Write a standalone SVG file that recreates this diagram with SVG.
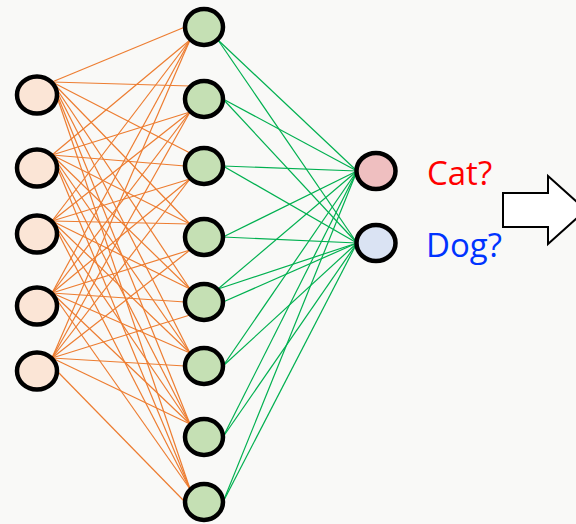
<svg xmlns="http://www.w3.org/2000/svg" width="576" height="524" viewBox="0 0 576 524">
<style>
.node{stroke:#000;stroke-width:4.5}
.in{fill:#FBE5D6}
.hid{fill:#C5E0B4}
.o{stroke:#ED7D31;stroke-width:1.2;fill:none}
.g{stroke:#00B050;stroke-width:1.2;fill:none}
.lbl{font-family:"Open Sans","Liberation Sans",sans-serif;font-size:33px}
</style>
<rect x="0" y="0" width="576" height="524" fill="#F9F9F7"/>
<g id="connectors">
<g id="orange">
<line class="o" x1="52" y1="82" x2="185" y2="27"/>
<line class="o" x1="52" y1="155" x2="190" y2="40"/>
<line class="o" x1="52" y1="221" x2="190" y2="40"/>
<line class="o" x1="52" y1="293" x2="190" y2="40"/>
<line class="o" x1="52" y1="358" x2="190" y2="40"/>
<line class="o" x1="52" y1="82" x2="190" y2="86"/>
<line class="o" x1="52" y1="155" x2="190" y2="112"/>
<line class="o" x1="52" y1="221" x2="190" y2="112"/>
<line class="o" x1="52" y1="293" x2="190" y2="112"/>
<line class="o" x1="52" y1="358" x2="190" y2="112"/>
<line class="o" x1="52" y1="82" x2="190" y2="153"/>
<line class="o" x1="52" y1="155" x2="185" y2="166"/>
<line class="o" x1="52" y1="221" x2="190" y2="179"/>
<line class="o" x1="52" y1="293" x2="190" y2="179"/>
<line class="o" x1="52" y1="358" x2="190" y2="179"/>
<line class="o" x1="52" y1="82" x2="190" y2="224"/>
<line class="o" x1="52" y1="155" x2="190" y2="224"/>
<line class="o" x1="52" y1="221" x2="190" y2="224"/>
<line class="o" x1="52" y1="293" x2="190" y2="250"/>
<line class="o" x1="52" y1="358" x2="190" y2="250"/>
<line class="o" x1="52" y1="82" x2="190" y2="289"/>
<line class="o" x1="52" y1="155" x2="190" y2="289"/>
<line class="o" x1="52" y1="221" x2="190" y2="289"/>
<line class="o" x1="52" y1="293" x2="185" y2="302"/>
<line class="o" x1="52" y1="358" x2="190" y2="315"/>
<line class="o" x1="52" y1="82" x2="190" y2="353"/>
<line class="o" x1="52" y1="155" x2="190" y2="353"/>
<line class="o" x1="52" y1="221" x2="190" y2="353"/>
<line class="o" x1="52" y1="293" x2="190" y2="353"/>
<line class="o" x1="52" y1="358" x2="185" y2="366"/>
<line class="o" x1="52" y1="82" x2="190" y2="424"/>
<line class="o" x1="52" y1="155" x2="190" y2="424"/>
<line class="o" x1="52" y1="221" x2="190" y2="424"/>
<line class="o" x1="52" y1="293" x2="190" y2="424"/>
<line class="o" x1="52" y1="358" x2="190" y2="424"/>
<line class="o" x1="52" y1="82" x2="190" y2="489"/>
<line class="o" x1="52" y1="155" x2="190" y2="489"/>
<line class="o" x1="52" y1="221" x2="190" y2="489"/>
<line class="o" x1="52" y1="293" x2="190" y2="489"/>
<line class="o" x1="57" y1="371" x2="185" y2="502"/>
</g>
<g id="green">
<line class="g" x1="218" y1="40" x2="357" y2="171"/>
<line class="g" x1="218" y1="40" x2="357" y2="243"/>
<line class="g" x1="223" y1="99" x2="357" y2="171"/>
<line class="g" x1="223" y1="99" x2="357" y2="243"/>
<line class="g" x1="223" y1="166" x2="357" y2="171"/>
<line class="g" x1="223" y1="166" x2="357" y2="243"/>
<line class="g" x1="223" y1="237" x2="357" y2="171"/>
<line class="g" x1="223" y1="237" x2="357" y2="243"/>
<line class="g" x1="218" y1="289" x2="357" y2="171"/>
<line class="g" x1="218" y1="289" x2="357" y2="243"/>
<line class="g" x1="223" y1="302" x2="357" y2="243"/>
<line class="g" x1="223" y1="366" x2="357" y2="171"/>
<line class="g" x1="223" y1="366" x2="357" y2="243"/>
<line class="g" x1="223" y1="437" x2="357" y2="171"/>
<line class="g" x1="223" y1="437" x2="357" y2="243"/>
<line class="g" x1="223" y1="502" x2="357" y2="171"/>
<line class="g" x1="223" y1="502" x2="357" y2="243"/>
</g>
</g>
<g id="input1"><ellipse class="node in" cx="37" cy="95" rx="20" ry="18.5"/></g>
<g id="input2"><ellipse class="node in" cx="37" cy="168" rx="20" ry="18.5"/></g>
<g id="input3"><ellipse class="node in" cx="37" cy="234" rx="20" ry="18.5"/></g>
<g id="input4"><ellipse class="node in" cx="37" cy="306" rx="20" ry="18.5"/></g>
<g id="input5"><ellipse class="node in" cx="37" cy="371" rx="20" ry="18.5"/></g>
<g id="hidden1"><ellipse class="node hid" cx="204" cy="27" rx="19" ry="18"/></g>
<g id="hidden2"><ellipse class="node hid" cx="204" cy="99" rx="19" ry="18"/></g>
<g id="hidden3"><ellipse class="node hid" cx="204" cy="166" rx="19" ry="18"/></g>
<g id="hidden4"><ellipse class="node hid" cx="204" cy="237" rx="19" ry="18"/></g>
<g id="hidden5"><ellipse class="node hid" cx="204" cy="302" rx="19" ry="18"/></g>
<g id="hidden6"><ellipse class="node hid" cx="204" cy="366" rx="19" ry="18"/></g>
<g id="hidden7"><ellipse class="node hid" cx="204" cy="437" rx="19" ry="18"/></g>
<g id="hidden8"><ellipse class="node hid" cx="204" cy="502" rx="19" ry="18"/></g>
<g id="cat"><ellipse class="node" fill="#EFBFC0" cx="376" cy="171" rx="19.5" ry="18"/>
<text class="lbl" x="427" y="185" fill="#FF0000">Cat?</text></g>
<g id="dog"><ellipse class="node" fill="#DAE3F3" cx="376" cy="243" rx="19.5" ry="18"/>
<text class="lbl" x="426" y="257" fill="#0033FF">Dog?</text></g>
<g id="arrow"><polygon points="503,193 548,193 548,176 586,210 548,244 548,227 503,227" fill="#FFFFFF" stroke="#000" stroke-width="2"/></g>
</svg>
